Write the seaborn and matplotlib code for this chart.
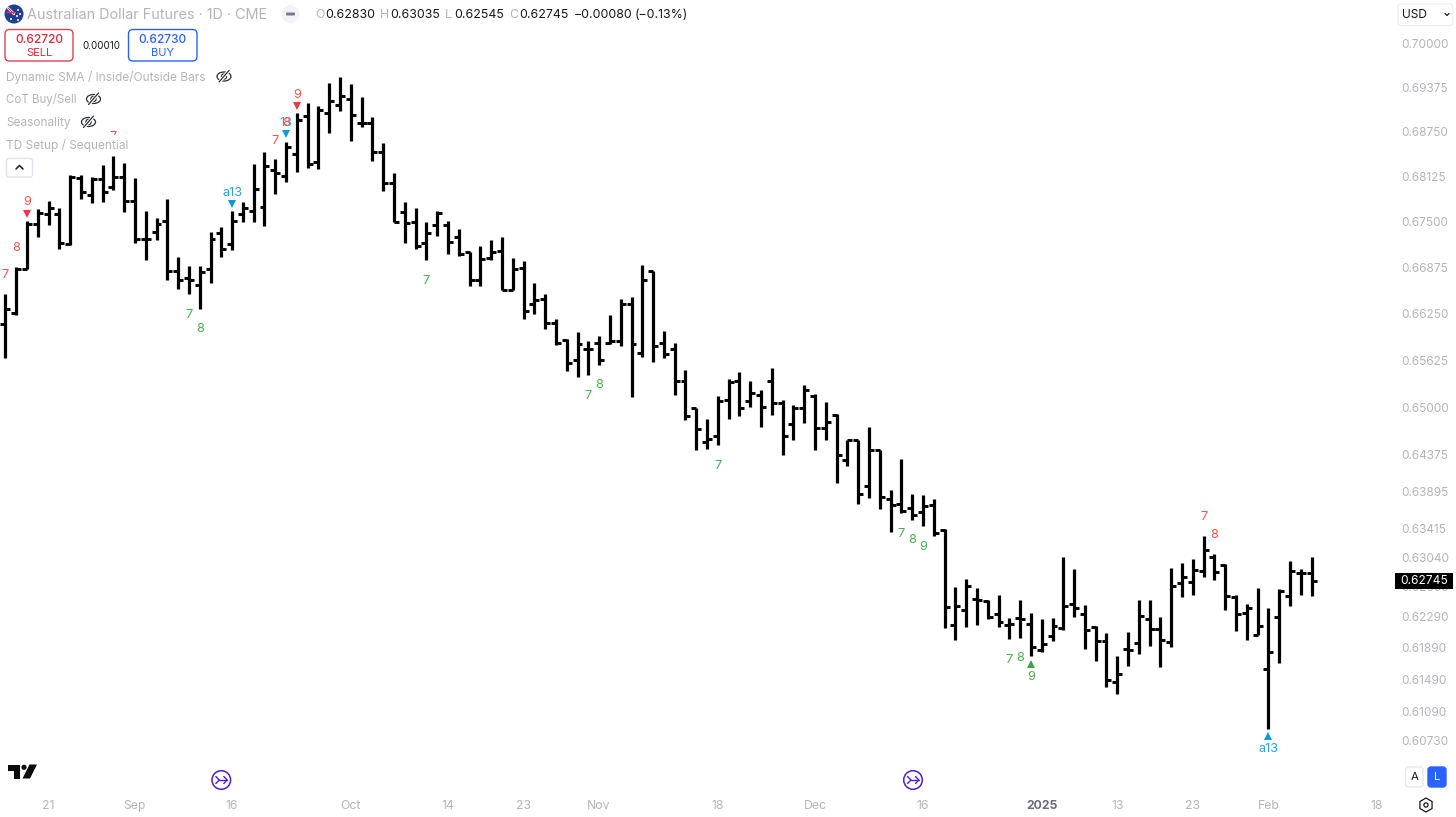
import matplotlib
matplotlib.use("Agg")
import matplotlib.pyplot as plt
import seaborn as sns
import pandas as pd
from matplotlib.patches import Circle, Ellipse, FancyBboxPatch, Polygon, Rectangle, RegularPolygon
from matplotlib.ticker import NullLocator
from matplotlib.transforms import offset_copy

# daily AUD futures bars, prices in 1/100000
opens = [66105, 66257, 66850, 67466, 67603, 67603, 67191, 68105, 67861, 68083, 67980,
         68111, 67782, 67256, 67360, 67511, 66823, 66737, 66632, 66850, 67338, 67191,
         67603, 67640, 67704, 68212, 68129, 68435, 68967, 68319, 69004, 69121, 69202,
         68864, 68872, 68467, 68027, 67635, 67489, 67209, 67452, 67452, 67291, 67078,
         66700, 66996, 67099, 66574, 66873, 66375, 66452, 66122, 65899, 65631, 65778,
         65859, 65859, 65880, 66375, 65719, 66827, 65859, 65769, 65346, 64992, 64544,
         64613, 65089, 65346, 65080, 65156, 65342, 65053, 64773, 64987, 65143, 64728,
         64890, 64307, 64561, 63958, 64429, 63790, 63734, 63682, 63630, 63712, 63389,
         62176, 62373, 62512, 62481, 62321, 62181, 62265, 62194, 61858, 62037, 62135,
         62448, 62321, 62151, 61974, 61461, 61870, 61949, 62258, 62131, 61962, 62711,
         62724, 62860, 63044, 62938, 62532, 62329, 62055, 61626, 62284, 62551, 62835,
         62835]
highs = [66520, 66881, 67507, 67668, 67778, 67695, 68147, 68147, 68111, 68281, 68407,
         68305, 68097, 67640, 67544, 67806, 67018, 66891, 66891, 67365, 67428, 67640,
         67773, 68295, 68458, 68361, 68606, 69004, 69145, 69107, 69428, 69513, 69418,
         69230, 68948, 68584, 68174, 67764, 67690, 67489, 67649, 67511, 67393, 67078,
         67164, 67246, 67291, 67004, 66963, 66663, 66520, 66182, 65903, 66007, 65880,
         65953, 66236, 66446, 66474, 66914, 66827, 66015, 65853, 65497, 64992, 64847,
         65146, 65372, 65471, 65346, 65231, 65524, 65089, 65032, 65298, 65169, 65067,
         64913, 64570, 64570, 64736, 64429, 63906, 64315, 63863, 63850, 63798, 63410,
         62660, 62767, 62652, 62490, 62563, 62270, 62490, 62334, 62249, 62270, 63044,
         62895, 62435, 62164, 62080, 61794, 62093, 62490, 62499, 62278, 62908, 62972,
         63018, 63319, 63087, 62959, 62566, 62448, 62643, 62392, 62634, 62992, 62895,
         63044]
lows = [65658, 66236, 66850, 67283, 67452, 67119, 67182, 67806, 67751, 67773, 67935,
        67635, 67201, 66972, 67246, 66710, 66587, 66510, 66317, 66663, 67013, 67109,
        67489, 67489, 67438, 67879, 68049, 68188, 68236, 68230, 68732, 69041, 68620,
        68808, 68341, 67921, 67497, 67209, 67132, 66972, 67301, 67064, 67031, 66628,
        66628, 66982, 66574, 66564, 66182, 66249, 66047, 65832, 65479, 65395, 65421,
        65564, 65845, 65819, 65133, 65666, 65599, 65652, 65165, 64824, 64429, 64446,
        64495, 64847, 64877, 65000, 64736, 64890, 64364, 64561, 64789, 64439, 64561,
        64007, 64224, 63733, 63811, 63663, 63371, 63612, 63526, 63439, 63319, 62143,
        61992, 62151, 62181, 62249, 62151, 61999, 62017, 61785, 61835, 61983, 62122,
        62278, 61873, 61731, 61396, 61313, 61659, 61815, 61920, 61647, 61898, 62532,
        62554, 62787, 62749, 62363, 62100, 61992, 62050, 60878, 61706, 62414, 62558,
        62545]
closes = [66311, 66850, 67466, 67621, 67690, 67201, 68111, 67907, 68083, 67911, 68111,
          67787, 67256, 67269, 67466, 66823, 66700, 66700, 66813, 67269, 67123, 67511,
          67682, 67944, 68268, 68174, 68528, 68910, 68295, 69051, 69182, 69248, 68981,
          68872, 68467, 68036, 67497, 67475, 67168, 67338, 67613, 67223, 67054, 66700,
          66986, 67086, 66574, 66850, 66284, 66429, 66122, 65853, 65591, 65845, 65778,
          65622, 65880, 66375, 65845, 66700, 65813, 65711, 65346, 64877, 64715, 64583,
          65080, 65332, 64992, 65186, 65000, 65053, 64613, 64987, 65231, 64728, 64802,
          64364, 64561, 63863, 64439, 63819, 63711, 63634, 63582, 63698, 63353, 62405,
          62426, 62669, 62490, 62278, 62223, 62194, 62257, 61898, 61941, 62164, 62414,
          62397, 62122, 61974, 61488, 61559, 61865, 62299, 62131, 61995, 62669, 62787,
          62882, 63139, 62851, 62541, 62321, 62392, 62164, 61840, 62609, 62860, 62835,
          62741]

price_ticks = [0.70000, 0.69375, 0.68750, 0.68125, 0.67500, 0.66875, 0.66250, 0.65625,
               0.65000, 0.64375, 0.63895, 0.63415, 0.63040, 0.62665, 0.62290, 0.61890,
               0.61490, 0.61090, 0.60730]
date_ticks = [4, 12, 21, 32, 41, 48, 55, 66, 75, 85, 96, 103, 110, 117, 127]
date_labels = ["21", "Sep", "16", "Oct", "14", "23", "Nov", "18", "Dec", "16", "2025",
               "13", "23", "Feb", "18"]

# TD Setup / Sequential counts: bar, label, high or low side, colour
RED, GREEN, BLUE = "#f4574f", "#4caf50", "#2aa5e0"
signals = [(0, "7", "high", RED), (1, "8", "high", RED), (2, "9", "high", RED),
           (10, "7", "high", RED), (21, "a13", "high", BLUE), (25, "7", "high", RED),
           (26, "13", "high", BLUE), (26, "8", "high", RED), (27, "9", "high", RED),
           (111, "7", "high", RED), (112, "8", "high", RED),
           (17, "7", "low", GREEN), (18, "8", "low", GREEN), (39, "7", "low", GREEN),
           (54, "7", "low", GREEN), (55, "8", "low", GREEN), (66, "7", "low", GREEN),
           (83, "7", "low", GREEN), (84, "8", "low", GREEN), (85, "9", "low", GREEN),
           (93, "7", "low", GREEN), (94, "8", "low", GREEN), (95, "9", "low", GREEN),
           (117, "a13", "low", BLUE)]
triangles = [(2, "high", "#f23645"), (21, "high", "#089bdc"), (26, "high", "#089bdc"),
             (27, "high", "#f23645"), (95, "low", "#43a047"), (117, "low", "#089bdc")]

GREY = "#b2b5be"
FONT = ["Inter", "DejaVu Sans"]

sns.set_theme(style="white")
plt.rcParams["font.family"] = FONT

df = pd.DataFrame({"open": opens, "high": highs, "low": lows, "close": closes}) / 100000
df["bar"] = range(len(df))

fig = plt.figure(figsize=(14.56, 8.17), dpi=100, facecolor="white")
ax = fig.add_axes([0, 27 / 817, 1392 / 1456, 790 / 817])

# high-low stems
stems = df.melt(id_vars="bar", value_vars=["high", "low"], value_name="price")
sns.lineplot(data=stems, x="bar", y="price", units="bar", estimator=None, color="black",
             linewidth=2.3, solid_capstyle="butt", legend=False, ax=ax)
# open / close ticks
ax.hlines(df["open"], df["bar"] - 0.46, df["bar"], color="black", linewidth=2.1, capstyle="butt")
ax.hlines(df["close"], df["bar"], df["bar"] + 0.46, color="black", linewidth=2.1, capstyle="butt")

ax.set_yscale("log")
ax.set_xlim(-0.5, 128.45)
ax.set_ylim(0.60125, 0.70616)
ax.yaxis.tick_right()
ax.set_yticks(price_ticks, [f"{p:.5f}" for p in price_ticks])
ax.yaxis.set_minor_locator(NullLocator())
ax.set_xticks(date_ticks, date_labels)
ax.tick_params(axis="y", length=0, pad=7.0, labelsize=8.5, labelcolor=GREY)
ax.tick_params(axis="x", length=0, pad=7, labelsize=8.8, labelcolor=GREY)
ax.set_xlabel("")
ax.set_ylabel("")
ax.xaxis.get_ticklabels()[10].set(fontweight="bold", color="#6a6d78")
sns.despine(ax=ax, left=True, bottom=True, right=True, top=True)

for bar, label_text, side, color in signals:
    row = df.iloc[bar]
    dy = 13.6 if side == "high" else -14.8
    ax.annotate(label_text, xy=(bar, row[side]), xytext=(0, dy), textcoords="offset points",
                ha="center", va="center", fontsize=9.2, color=color)
for bar, side, color in triangles:
    row = df.iloc[bar]
    up = side == "high"
    tr = offset_copy(ax.transData, fig=fig, y=7.5 if up else -7.5, units="dots")
    ax.plot([bar], [row[side]], marker="v" if up else "^", markersize=5.4, color=color,
            markeredgewidth=0, transform=tr, linestyle="none")

# everything below is the platform chrome, placed in screen pixels
ui = fig.add_axes([0, 0, 1, 1], facecolor="none")
ui.set_xlim(0, 1456)
ui.set_ylim(817, 0)
ui.axis("off")


def label(x, y, s, color=GREY, size=8.8, ha="left", **kw):
    ui.text(x, y, s, color=color, fontsize=size, ha=ha, va="center", **kw)


def box(x, y, w, h, edge, face="white", radius=4, lw=1.0):
    ui.add_patch(FancyBboxPatch((x, y), w, h, boxstyle=f"round,pad=0,rounding_size={radius}",
                                edgecolor=edge, facecolor=face, linewidth=lw))


def stroke(xs, ys, color="#131722", lw=1.0):
    ui.plot(xs, ys, color=color, linewidth=lw, solid_capstyle="round")


# symbol header
ui.add_patch(Circle((14, 14), 9.5, facecolor="#1f3f94", edgecolor="none"))
stroke([8, 14], [8, 14], color="#ffffff", lw=1.8)
stroke([8, 14], [8, 14], color="#e8384f", lw=0.8)
stroke([6, 15], [12, 12], color="#e8384f", lw=1.0)
for cx, cy in [(18, 10), (20, 14), (17, 16), (18, 20), (11, 19)]:
    ui.add_patch(Circle((cx, cy), 1.0, facecolor="white", edgecolor="none"))
label(27, 14.5, "Australian Dollar Futures · 1D · CME", size=10.4)
ui.add_patch(Circle((290.5, 14), 9, facecolor="#f0f3fa", edgecolor="none"))
ui.add_patch(FancyBboxPatch((286, 12.5), 9, 3, boxstyle="round,pad=0,rounding_size=1",
                            facecolor="#787b86", edgecolor="none"))

# OHLC readout
for x, s in [(315, "O"), (380, "H"), (444.5, "L"), (509, "C")]:
    label(x, 14.5, s, size=8.9)
for x, s in [(325.5, "0.62830"), (390.5, "0.63035"), (454, "0.62545"), (519, "0.62745"),
             (574, "−0.00080"), (635, "(−0.13%)")]:
    label(x, 14.5, s, color="#131722", size=8.9)

# order buttons
box(5, 29.5, 68, 31.5, "#e5404f", radius=4.5)
label(39, 39.5, "0.62720", color="#d92b3a", size=8.6, ha="center", fontweight="medium")
label(39, 53, "SELL", color="#d92b3a", size=8.0, ha="center")
label(101, 45.5, "0.00010", color="#131722", size=7.0, ha="center")
box(128.5, 29.5, 68.5, 31.5, "#2962ff", radius=4.5)
label(162.7, 39.5, "0.62730", color="#2962ff", size=8.6, ha="center", fontweight="medium")
label(162.7, 53, "BUY", color="#2962ff", size=8.0, ha="center")

# indicator legend, the last row hides what sits behind it
ui.add_patch(Rectangle((4, 134.5), 130, 21, facecolor="white", edgecolor="none"))
label(6, 77, "Dynamic SMA / Inside/Outside Bars", size=8.55)
label(6, 99.5, "CoT Buy/Sell", size=8.3)
label(6, 122.5, "Seasonality", size=8.55)
label(6, 145, "TD Setup / Sequential", size=8.55)
for cx, cy in [(224, 76.5), (93.5, 99), (88.5, 122)]:
    ui.add_patch(Ellipse((cx, cy), 14, 9, facecolor="none", edgecolor="#2a2e39", linewidth=0.9))
    ui.add_patch(Circle((cx, cy), 2.6, facecolor="none", edgecolor="#2a2e39", linewidth=0.9))
    stroke([cx - 5, cx + 5], [cy + 6, cy - 6], color="white", lw=2.4)
    stroke([cx - 5, cx + 5], [cy + 5.5, cy - 6], color="#2a2e39", lw=0.9)
box(6.5, 158.5, 26, 18.5, "#e0e3eb", radius=2.5)
stroke([16, 19.5, 23], [169, 165.5, 169], color="#131722", lw=1.1)

# current price tag
ui.add_patch(Rectangle((1395, 573.3), 58, 16, facecolor="black", edgecolor="none"))
label(1424, 581.3, "0.62745", color="white", size=8.6, ha="center")

# currency selector
box(1398, 4, 54.5, 21.5, "#eef0f4", radius=2.5)
label(1402, 14.5, "USD", color="#131722", size=8.6)
stroke([1445, 1447, 1449], [13.5, 15.5, 13.5], color="#131722", lw=0.9)

# scale buttons and settings
box(1405.5, 767, 17.5, 20, "#e6e8ee", radius=3)
label(1414.3, 777.3, "A", color="#131722", size=8.2, ha="center")
box(1428, 767, 18, 20, "#2962ff", face="#2962ff", radius=3)
label(1437, 777.3, "L", color="white", size=8.2, ha="center")
ui.add_patch(RegularPolygon((1426, 805), 6, radius=7, orientation=0.0, facecolor="none",
                            edgecolor="#131722", linewidth=0.9))
ui.add_patch(Circle((1426, 805), 2.1, facecolor="none", edgecolor="#131722", linewidth=0.9))

# logo
logo = "#0b0b0b"
ui.add_patch(Polygon([(8.3, 764.5), (20, 764.5), (20, 778.5), (14, 778.5), (14, 770.5), (8.3, 770.5)],
                     facecolor=logo, edgecolor="none"))
ui.add_patch(Circle((24, 767.3), 2.6, facecolor=logo, edgecolor="none"))
ui.add_patch(Polygon([(29.5, 764.5), (37, 764.5), (30, 778.5), (22.5, 778.5)], facecolor=logo, edgecolor="none"))

# session break markers
for cx in [221.3, 913]:
    ui.add_patch(Circle((cx, 780), 9.3, facecolor="white", edgecolor="#4a21d4", linewidth=1.1))
    stroke([cx - 5.5, cx - 2, cx - 5.5], [776.5, 780, 783.5], color="#4a21d4", lw=1.0)
    stroke([cx - 2, cx + 5.5], [780, 780], color="#4a21d4", lw=1.0)
    stroke([cx + 2.5, cx + 5.8, cx + 2.5], [776.5, 780, 783.5], color="#4a21d4", lw=1.0)

fig.savefig("out.png", dpi=100, facecolor="white")
